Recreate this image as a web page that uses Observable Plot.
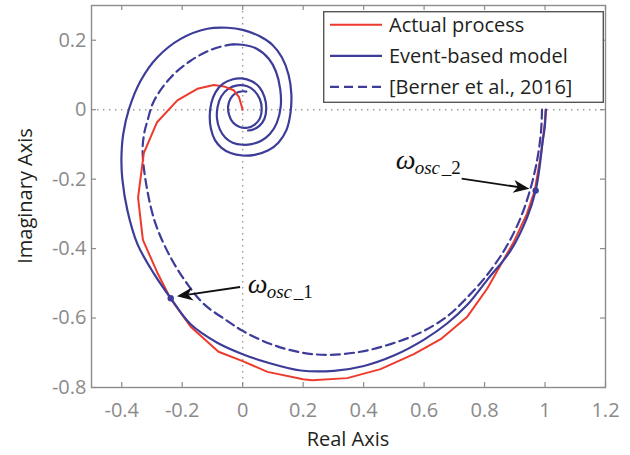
<!DOCTYPE html>
<html>
<head>
<meta charset="utf-8">
<script src="https://cdn.jsdelivr.net/npm/d3@7"></script>
<script src="https://cdn.jsdelivr.net/npm/@observablehq/plot@0.6"></script>
<style>
  html, body { margin: 0; padding: 0; background: #ffffff; }
  #wrap { position: relative; width: 630px; height: 455px; background: #ffffff; font-family: "Open Sans", sans-serif; }
  #chart { position: absolute; left: 0; top: 0; }
  .ttl { position: absolute; font-size: 20px; color: #231f20; white-space: nowrap; }
  #xl { left: 348px; top: 425px; transform: translateX(-50%); }
  #yl { left: 24px; top: 196px; transform: translate(-50%, -50%) rotate(-90deg); }
  #legend { position: absolute; left: 323px; top: 11px; }
</style>
</head>
<body>
<div id="wrap">
  <div id="chart"></div>
  <div class="ttl" id="xl">Real Axis</div>
  <div class="ttl" id="yl">Imaginary Axis</div>
  <svg id="legend" width="281" height="92"></svg>
</div>
<script>
// ---------- data ----------
const seriesNames = ["Actual process", "Event-based model", "[Berner et al., 2016]"];

// Actual process (red)
const actualRe = [0, -0.012, -0.03, -0.062, -0.095, -0.15, -0.216, -0.284, -0.327, -0.346, -0.33, -0.283, -0.238, -0.172, -0.08, 0, 0.082, 0.2, 0.23, 0.346, 0.456, 0.566, 0.655, 0.743, 0.809, 0.897, 0.94, 0.966, 0.988, 0.999, 1.002];
const actualIm = [0, 0.036, 0.056, 0.067, 0.071, 0.06, 0.027, -0.037, -0.125, -0.253, -0.375, -0.468, -0.545, -0.625, -0.697, -0.724, -0.755, -0.776, -0.779, -0.773, -0.747, -0.704, -0.661, -0.596, -0.515, -0.38, -0.3, -0.233, -0.12, -0.04, 0];

// Event-based model (solid blue)
const eventRe = [1.003, 0.999, 0.991, 0.982, 0.969, 0.941, 0.886, 0.809, 0.743, 0.677, 0.6, 0.5, 0.401, 0.302, 0.192, 0.082, 0, -0.084, -0.172, -0.238, -0.293, -0.348, -0.381, -0.398, -0.401, -0.395, -0.376, -0.337, -0.282, -0.205, -0.117, -0.05, 0, 0.055, 0.098, 0.13, 0.152, 0.161, 0.158, 0.145, 0.118, 0.085, 0.04, 0, -0.04, -0.07, -0.092, -0.105, -0.109, -0.104, -0.09, -0.066, -0.035, -0.003, 0.03, 0.056, 0.072, 0.078, 0.072, 0.056, 0.035, 0.018];
const eventIm = [0, -0.05, -0.099, -0.165, -0.233, -0.31, -0.406, -0.49, -0.562, -0.615, -0.662, -0.708, -0.738, -0.752, -0.751, -0.728, -0.704, -0.671, -0.618, -0.543, -0.473, -0.387, -0.291, -0.2, -0.14, -0.07, 0.002, 0.084, 0.151, 0.204, 0.233, 0.236, 0.23, 0.212, 0.187, 0.15, 0.1, 0.045, -0.01, -0.058, -0.095, -0.117, -0.13, -0.132, -0.125, -0.11, -0.087, -0.055, -0.02, 0.018, 0.05, 0.074, 0.087, 0.09, 0.082, 0.064, 0.037, 0.005, -0.026, -0.046, -0.057, -0.06];

// [Berner et al., 2016] (dashed blue, outer part)
const bernerRe = [0.99, 0.987, 0.975, 0.95, 0.915, 0.865, 0.8, 0.732, 0.677, 0.588, 0.489, 0.39, 0.28, 0.192, 0.093, 0, -0.051, -0.128, -0.183, -0.238, -0.288, -0.318, -0.331, -0.326, -0.315, -0.293, -0.238, -0.172, -0.106, -0.05, -0.03];
const bernerIm = [0, -0.06, -0.14, -0.233, -0.32, -0.405, -0.485, -0.55, -0.595, -0.642, -0.675, -0.697, -0.706, -0.699, -0.675, -0.637, -0.608, -0.56, -0.502, -0.426, -0.329, -0.22, -0.12, -0.07, -0.032, 0.026, 0.093, 0.141, 0.172, 0.186, 0.188];
// [Berner et al., 2016] inner spiral (dense points, renders solid in the reference)
const bernerSpiralRe = [-0.03, 0, 0.045, 0.087, 0.11, 0.124, 0.126, 0.113, 0.09, 0.06, 0.03, 0, -0.033, -0.058, -0.076, -0.085, -0.083, -0.071, -0.048, -0.018, 0.013, 0.039, 0.057, 0.063, 0.057, 0.04, 0.016, -0.01, -0.032, -0.045, -0.048, -0.04, -0.024, 0, 0.012];
const bernerSpiralIm = [0.188, 0.187, 0.176, 0.146, 0.11, 0.06, 0.01, -0.038, -0.07, -0.09, -0.099, -0.101, -0.095, -0.08, -0.056, -0.025, 0.008, 0.038, 0.06, 0.07, 0.068, 0.054, 0.03, 0.002, -0.025, -0.043, -0.052, -0.05, -0.037, -0.015, 0.01, 0.032, 0.047, 0.053, 0.052];

// oscillation frequency points
const oscRe = [-0.238, 0.969];
const oscIm = [-0.543, -0.233];
const oscIndex = ["1", "2"];
// label anchors and arrows (data coordinates)
const labelRe = [0.0165, 0.506];
const labelIm = [-0.527, -0.170];
const arrowFromRe = [-0.007, 0.726];
const arrowFromIm = [-0.512, -0.2];
const arrowToRe = [-0.216, 0.95];
const arrowToIm = [-0.539, -0.229];

// axes
const xTicks = [-0.4, -0.2, 0, 0.2, 0.4, 0.6, 0.8, 1, 1.2];
const xTickLabels = ["-0.4", "-0.2", "0", "0.2", "0.4", "0.6", "0.8", "1", "1.2"];
const yTicks = [0.2, 0, -0.2, -0.4, -0.6, -0.8];
const yTickLabels = ["0.2", "0", "-0.2", "-0.4", "-0.6", "-0.8"];

// ---------- build ----------
const RED = "#ee3a2c", BLUE = "#3d3d99", GRAY = "#8c8c8c";
const toPts = (re, im) => re.map((r, i) => ({re: r, im: im[i]}));
const actual = toPts(actualRe, actualIm);
const eventM = toPts(eventRe, eventIm);
const berner = toPts(bernerRe, bernerIm);
const bernerSpiral = toPts(bernerSpiralRe, bernerSpiralIm);
const osc = oscRe.map((r, i) => ({re: r, im: oscIm[i], k: oscIndex[i], lre: labelRe[i], lim: labelIm[i]}));
const arrows = arrowFromRe.map((r, i) => ({x0: r, y0: arrowFromIm[i], x1: arrowToRe[i], y1: arrowToIm[i]}));
const xLab = new Map(xTicks.map((t, i) => [t, xTickLabels[i]]));
const yLab = new Map(yTicks.map((t, i) => [t, yTickLabels[i]]));

const W = 630, H = 455, mL = 91, mR = 25, mT = 5, mB = 68;
const fw = W - mL - mR, fh = H - mT - mB;

function arrowMark(index, scales) {
  const g = d3.create("svg:g");
  for (const a of arrows) {
    const x0 = scales.x(a.x0), y0 = scales.y(a.y0), x1 = scales.x(a.x1), y1 = scales.y(a.y1);
    const dx = x1 - x0, dy = y1 - y0, len = Math.hypot(dx, dy);
    const ux = dx / len, uy = dy / len, nx = -uy, ny = ux;
    const L = 16, Wd = 6.5;
    const bx = x1 - ux * L, by = y1 - uy * L;
    const kx = x1 - ux * L * 0.72, ky = y1 - uy * L * 0.72;
    g.append("line").attr("x1", x0).attr("y1", y0).attr("x2", kx).attr("y2", ky)
      .attr("stroke", "#111").attr("stroke-width", 1.8);
    g.append("path")
      .attr("d", `M${x1},${y1}L${bx + nx * Wd},${by + ny * Wd}L${kx},${ky}L${bx - nx * Wd},${by - ny * Wd}Z`)
      .attr("fill", "#111");
  }
  return g.node();
}

const plot = Plot.plot({
  width: W, height: H,
  marginLeft: mL, marginRight: mR, marginTop: mT, marginBottom: mB,
  x: {domain: [-0.5, 1.2]},
  y: {domain: [-0.8, 0.3]},
  style: {fontFamily: "Open Sans", fontSize: "20px", background: "transparent", color: "#8a8a8a"},
  marks: [
    Plot.ruleX([0], {stroke: "#9a9a9a", strokeWidth: 1.4, strokeDasharray: "1.4,4.6"}),
    Plot.ruleY([0], {stroke: "#9a9a9a", strokeWidth: 1.4, strokeDasharray: "1.4,4.6"}),
    Plot.line(berner, {x: "re", y: "im", stroke: BLUE, strokeWidth: 2.2, strokeDasharray: "9,5", curve: "catmull-rom"}),
    Plot.line(bernerSpiral, {x: "re", y: "im", stroke: BLUE, strokeWidth: 2.2, curve: "catmull-rom"}),
    Plot.line(actual, {x: "re", y: "im", stroke: RED, strokeWidth: 2}),
    Plot.line(eventM, {x: "re", y: "im", stroke: BLUE, strokeWidth: 2.2, curve: "catmull-rom"}),
    Plot.dot(osc, {x: "re", y: "im", r: 3.2, fill: BLUE, stroke: "none"}),
    arrowMark,
    Plot.text(osc, {x: "lre", y: "lim", text: () => "ω", fontFamily: "Liberation Serif", fontStyle: "italic", fontSize: 28, textAnchor: "start", lineAnchor: "bottom", fill: "#111"}),
    Plot.text(osc, {x: "lre", y: "lim", text: () => "osc", fontFamily: "Liberation Serif", fontStyle: "italic", fontSize: 19, textAnchor: "start", lineAnchor: "bottom", dx: 19, dy: 5, fill: "#111"}),
    Plot.text(osc, {x: "lre", y: "lim", text: d => "_" + d.k, fontFamily: "Liberation Serif", fontSize: 19, textAnchor: "start", lineAnchor: "bottom", dx: 46, dy: 5, fill: "#111"}),
    Plot.frame({stroke: GRAY, strokeWidth: 1.4}),
    Plot.ruleX(xTicks, {x: d => d, insetTop: fh - 5, stroke: GRAY, strokeWidth: 1.2}),
    Plot.ruleX(xTicks, {x: d => d, insetBottom: fh - 5, stroke: GRAY, strokeWidth: 1.2}),
    Plot.ruleY(yTicks, {y: d => d, insetRight: fw - 5, stroke: GRAY, strokeWidth: 1.2}),
    Plot.ruleY(yTicks, {y: d => d, insetLeft: fw - 5, stroke: GRAY, strokeWidth: 1.2}),
    Plot.axisX({ticks: xTicks, tickSize: 0, tickPadding: 15, tickFormat: d => xLab.get(d), label: null, fill: "#8a8a8a"}),
    Plot.axisY({ticks: yTicks, tickSize: 0, tickPadding: 5, tickFormat: d => yLab.get(d), label: null, fill: "#8a8a8a"})
  ]
});
document.getElementById("chart").appendChild(plot);

// legend
const lg = d3.select("#legend");
lg.append("rect").attr("x", 0.7).attr("y", 0.7).attr("width", 279.6).attr("height", 90.6)
  .attr("fill", "#ffffff").attr("stroke", "#555").attr("stroke-width", 1.4);
const legStyles = [
  {stroke: RED, dash: null, w: 2},
  {stroke: BLUE, dash: null, w: 2.2},
  {stroke: BLUE, dash: "9,5", w: 2.2}
];
seriesNames.forEach((name, i) => {
  const cy = 13.8 + i * 31, base = 21.3 + i * 31;
  lg.append("line").attr("x1", 7).attr("x2", 59).attr("y1", cy).attr("y2", cy)
    .attr("stroke", legStyles[i].stroke).attr("stroke-width", legStyles[i].w)
    .attr("stroke-dasharray", legStyles[i].dash);
  lg.append("text").attr("x", 66).attr("y", base).text(name)
    .attr("font-family", "Open Sans").attr("font-size", 20).attr("fill", "#231f20");
});
</script>
</body>
</html>
